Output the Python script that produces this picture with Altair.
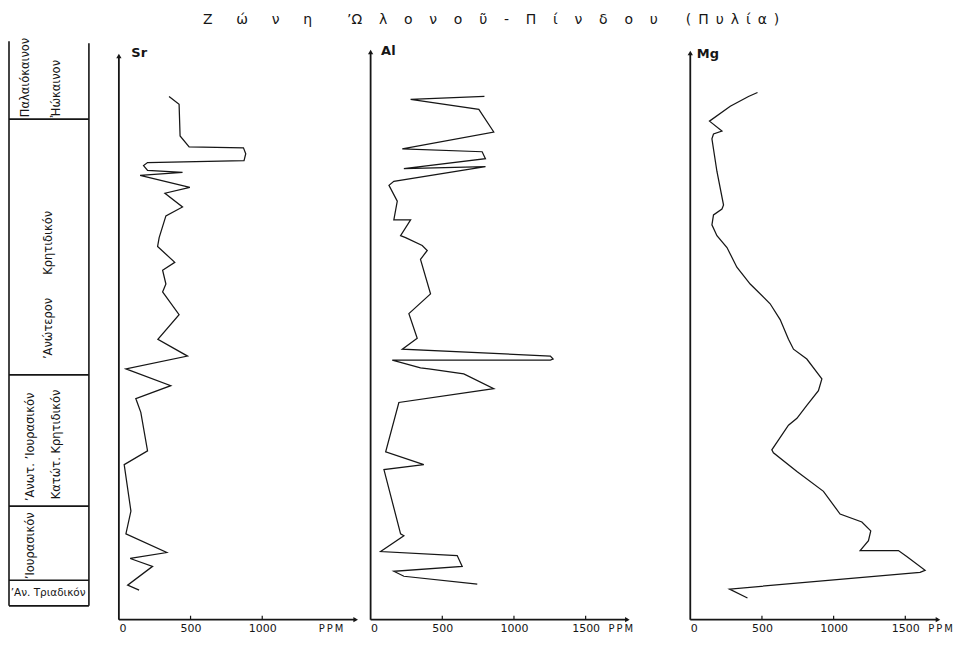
import altair as alt
import pandas as pd

INK = "#161616"
FONT = "DejaVu Sans"

# ---------------- values ----------------
# vertical position = stratigraphic height (arbitrary units, 0 = base of the axes)
sr_ppm = [350, 420, 427, 490, 869, 885, 873, 200, 172, 200, 444, 148, 495, 321, 444, 328, 281, 270, 390, 305,
          328, 305, 420, 272, 479, 49, 362, 118, 153, 200, 37, 84, 49, 334, 79, 235, 61, 141]
sr_pos = [530, 522, 490, 479, 478, 472, 465, 463, 460, 455, 453, 450, 438, 432, 418, 409, 387, 378, 362, 354,
          340, 332, 309, 284, 267, 254, 237, 224, 210, 171, 157, 110, 87, 68, 62, 54, 35, 30]

al_ppm = [794, 279, 755, 859, 221, 778, 801, 232, 801, 162, 128, 186, 162, 279, 209, 244, 360, 395, 348, 418,
          267, 325, 221, 1254, 1273, 1254, 151, 348, 406, 650, 859, 197, 105, 371, 93, 209, 232, 70, 604, 639,
          162, 232, 744]
al_pos = [530, 527, 517, 494, 477, 474, 467, 457, 459, 444, 440, 424, 405, 405, 389, 387, 379, 374, 365, 330,
          310, 285, 274, 267, 264, 263, 263, 255, 254, 249, 234, 220, 170, 157, 152, 87, 85, 69, 65, 54,
          49, 44, 36]

mg_ppm = [469, 406, 279, 134, 221, 162, 151, 186, 232, 221, 162, 151, 186, 256, 325, 418, 557, 627, 685, 720,
          813, 918, 894, 813, 744, 685, 569, 580, 744, 929, 1045, 1197, 1259, 1243, 1185, 1452, 1510, 1638, 1603,
          274, 399]
mg_pos = [534, 530, 520, 505, 495, 492, 487, 454, 420, 416, 410, 400, 389, 377, 357, 340, 320, 304, 284, 274,
          264, 244, 232, 217, 204, 197, 172, 169, 150, 130, 107, 99, 90, 80, 70, 70, 64, 50, 48,
          31, 22]

# stratigraphic column (same vertical units)
strat_bounds = [507, 248, 115, 40, 14]
strat_top = 586
strat_names = ["Παλαιόκαινον", "Ἠώκαινον", "’Ανώτερον\u2003\u2003Κρητιδικόν",
               "’Ανωτ. ’Ιουρασικόν", "Κατώτ. Κρητιδικόν", "’Ιουρασικόν"]
base_name = "’Αν. Τριαδικόν"

tick_values = {"Sr": [500, 1000], "Al": [500, 1000, 1500], "Mg": [500, 1000, 1500]}
label_values = {"Sr": [0, 500, 1000], "Al": [0, 500, 1000, 1500], "Mg": [0, 500, 1000, 1500]}

# ---------------- layout ----------------
PX_PER_PPM = 0.1435
Y_DOMAIN = 597
H = 590
WIDTH = {"Sr": 237, "Al": 305, "Mg": 248}
AXIS_END = {"Sr": 1652, "Al": 1791, "Mg": 1728}
Y_TOP = {"Sr": 571, "Al": 575, "Mg": 574}
PPM_X = {"Sr": 212, "Al": 250, "Mg": 250}
NAME_XY = {"Sr": (12, 22), "Al": (10, 20), "Mg": (6, 23)}
COL_W = 95
COL_FRAC = 80 / 95

yscale = alt.Scale(domain=[0, Y_DOMAIN], nice=False, zero=False)


def panel(name, ppm, pos):
    xscale = alt.Scale(domain=[0, WIDTH[name] / PX_PER_PPM], nice=False, zero=False)
    xaxis = alt.Axis(values=label_values[name], format="d", domain=False, ticks=False, grid=False,
                     labelFont=FONT, labelFontSize=11, labelColor=INK, labelPadding=3,
                     title="P\u2009P\u2009M", titleFont=FONT, titleFontSize=10, titleFontWeight="normal",
                     titleColor=INK, titleX=PPM_X[name], titleY=9, titleAlign="center",
                     titleBaseline="middle", titleAngle=0)
    yaxis = alt.Axis(domain=False, ticks=False, labels=False, grid=False,
                     title=name, titleAngle=0, titleX=NAME_XY[name][0], titleY=NAME_XY[name][1],
                     titleAlign="left", titleBaseline="middle", titleFont=FONT, titleFontSize=13,
                     titleFontWeight="bold", titleColor=INK)

    df = pd.DataFrame({"ppm": ppm, "pos": pos, "i": list(range(len(ppm)))})
    line = alt.Chart(df).mark_line(color=INK, strokeWidth=1.25).encode(
        x=alt.X("ppm:Q", scale=xscale, axis=xaxis),
        y=alt.Y("pos:Q", scale=yscale, axis=yaxis),
        order="i:Q",
    )

    frame = pd.DataFrame({"x0": [0, 0], "x1": [AXIS_END[name], 0], "y0": [0, 0], "y1": [0, Y_TOP[name]]})
    axes_lines = alt.Chart(frame).mark_rule(color=INK, strokeWidth=1.8).encode(
        x=alt.X("x0:Q", scale=xscale, axis=xaxis),
        x2="x1:Q",
        y=alt.Y("y0:Q", scale=yscale, axis=yaxis),
        y2="y1:Q",
    )

    arrows_x = alt.Chart(pd.DataFrame({"x": [AXIS_END[name]], "y": [0]})).mark_point(
        shape="triangle-right", filled=True, color=INK, size=28, opacity=1).encode(
        x=alt.X("x:Q", scale=xscale, axis=xaxis), y=alt.Y("y:Q", scale=yscale, axis=yaxis))
    arrows_y = alt.Chart(pd.DataFrame({"x": [0], "y": [Y_TOP[name]]})).mark_point(
        shape="triangle-up", filled=True, color=INK, size=28, opacity=1).encode(
        x=alt.X("x:Q", scale=xscale, axis=xaxis), y=alt.Y("y:Q", scale=yscale, axis=yaxis))

    tdf = pd.DataFrame({"t": tick_values[name], "y0": 0, "y1": 4})
    ticks = alt.Chart(tdf).mark_rule(color=INK, strokeWidth=1.2).encode(
        x=alt.X("t:Q", scale=xscale, axis=xaxis),
        y=alt.Y("y0:Q", scale=yscale, axis=yaxis),
        y2="y1:Q",
    )
    return alt.layer(axes_lines, ticks, arrows_x, arrows_y, line).properties(width=WIDTH[name], height=H)


# ---------------- stratigraphic column ----------------
cscale = alt.Scale(domain=[0, 1 / COL_FRAC], nice=False, zero=False)
hrules = pd.DataFrame({"x0": 0.0, "x1": 1.0, "y": strat_bounds})
vrules = pd.DataFrame({"x": [0.0, 1.0], "y0": [strat_bounds[-1]] * 2, "y1": [strat_top, strat_top - 2]})

col_h = alt.Chart(hrules).mark_rule(color=INK, strokeWidth=1.6).encode(
    x=alt.X("x0:Q", scale=cscale, axis=None), x2="x1:Q",
    y=alt.Y("y:Q", scale=yscale, axis=None))
col_v = alt.Chart(vrules).mark_rule(color=INK, strokeWidth=1.6).encode(
    x=alt.X("x:Q", scale=cscale, axis=None),
    y=alt.Y("y0:Q", scale=yscale, axis=None), y2="y1:Q")

rot_labels = pd.DataFrame({
    "text": strat_names,
    "lane": [0.21, 0.60, 0.50, 0.275, 0.60, 0.275],
    "start": [509, 509, 264, 120, 122, 41],
})
col_text = alt.Chart(rot_labels).mark_text(
    angle=270, align="left", baseline="middle", font=FONT, fontSize=11.5, color=INK).encode(
    x=alt.X("lane:Q", scale=cscale, axis=None),
    y=alt.Y("start:Q", scale=yscale, axis=None),
    text="text:N")
base_text = alt.Chart(pd.DataFrame({"text": [base_name], "lane": [0.49], "p": [27]})).mark_text(
    align="center", baseline="middle", font=FONT, fontSize=10.5, color=INK).encode(
    x=alt.X("lane:Q", scale=cscale, axis=None),
    y=alt.Y("p:Q", scale=yscale, axis=None),
    text="text:N")

column = alt.layer(col_h, col_v, col_text, base_text).properties(width=COL_W, height=H)

EM, EN, TH = "\u2003", "\u2002", "\u2009"
g1 = EM + EN + TH
g2 = EM + TH
title_text = (g1.join(["Ζ", "ώ", "ν", "η"]) + EM + EM + EN +
              g2.join(["’Ω", "λ", "ο", "ν", "ο", "ῦ", "-", "Π", "ί", "ν", "δ", "ο", "υ"]) + EM + EM +
              EN.join(list("(Πυλία)")))

chart = alt.hconcat(
    column, panel("Sr", sr_ppm, sr_pos), panel("Al", al_ppm, al_pos), panel("Mg", mg_ppm, mg_pos),
    spacing=15, bounds="flush",
).properties(
    title=alt.TitleParams(text=title_text, font=FONT, fontSize=14, fontWeight="normal", color=INK,
                          anchor="start", dx=195, offset=3),
    padding={"left": 0, "top": 5, "right": 0, "bottom": 0},
    background="white",
).configure_view(stroke=None)

chart.save("out.html", embed_options={"renderer": "svg", "actions": False})
